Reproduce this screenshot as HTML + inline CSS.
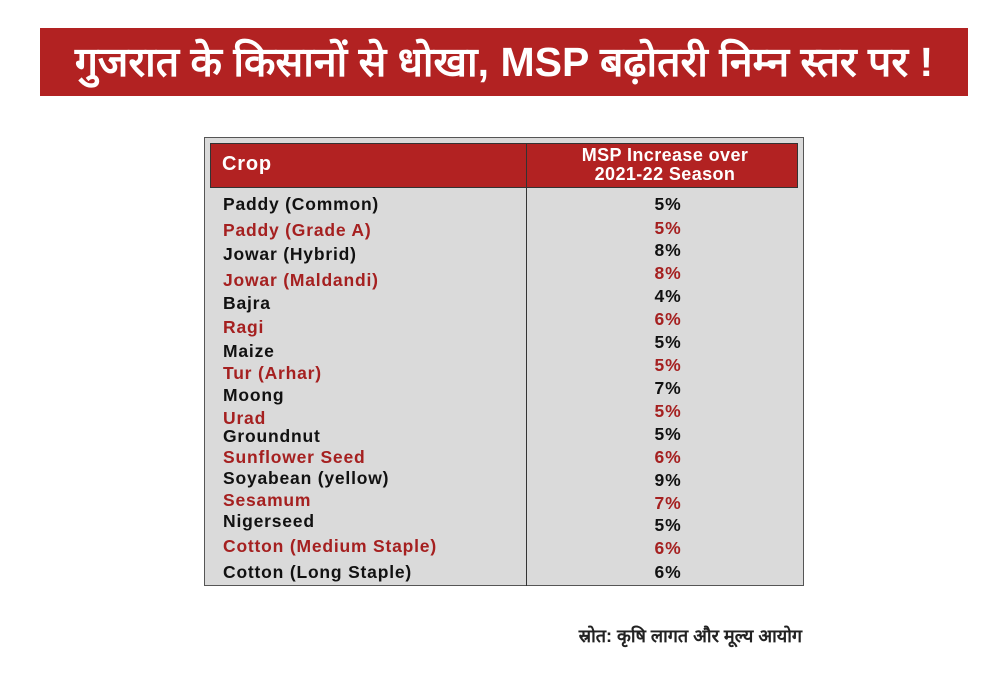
<!DOCTYPE html>
<html><head><meta charset="utf-8"><style>
body{margin:0;width:1000px;height:700px;background:#fff;position:relative;overflow:hidden;font-family:"Liberation Sans",sans-serif}
#banner{position:absolute;left:40px;top:28px;width:928px;height:68px;background:#b22222;color:#fff;font-weight:bold;font-size:41px;line-height:68px;text-align:center;white-space:nowrap;overflow:hidden}
#tbl{position:absolute;left:204px;top:137px;width:600px;height:449px;background:#dadada;border:1px solid #555;box-sizing:border-box}
#hdr{position:absolute;left:210px;top:143px;width:588px;height:45px;background:#b22222;border:1px solid #333;box-sizing:border-box}
#div{position:absolute;left:526px;top:143px;width:1px;height:443px;background:#333}
.t{position:absolute;font-weight:bold;font-size:17.5px;line-height:18px;white-space:nowrap;color:#111;letter-spacing:0.8px}
.r{color:#a52020}
.v{width:80px;text-align:center;left:628px}
#src{position:absolute;left:500px;top:624px;width:302px;text-align:right;font-weight:bold;font-size:18px;color:#222}
</style></head><body>
<div id="banner">गुजरात के किसानों से धोखा, MSP बढ़ोतरी निम्न स्तर पर !</div>
<div id="tbl"></div>
<div id="hdr"></div>
<div id="div"></div>
<div class="t" style="left:222px;top:153px;color:#fff;font-size:20px;line-height:22px">Crop</div>
<div class="t" style="left:530px;top:146px;width:270px;text-align:center;color:#fff;font-size:18px;line-height:19px;letter-spacing:0.4px">MSP Increase over<br>2021-22 Season</div>
<div id="rows"></div>
<div id="src">स्रोत: कृषि लागत और मूल्य आयोग</div>
<script>
const crops=["Paddy (Common)","Paddy (Grade A)","Jowar (Hybrid)","Jowar (Maldandi)","Bajra","Ragi","Maize","Tur (Arhar)","Moong","Urad","Groundnut","Sunflower Seed","Soyabean (yellow)","Sesamum","Nigerseed","Cotton (Medium Staple)","Cotton (Long Staple)"];
const increases=[5,5,8,8,4,6,5,5,7,5,5,6,9,7,5,6,6];
const nameY=[204,230,254,280,303,327,351,373,395,418,436,457,478,500,521,546,572];
const valY=[204,228,250,273,296,319,342,365,388,411,434,457,480,503,525,548,572];
const root=document.getElementById('rows');
crops.forEach((c,i)=>{
  const n=document.createElement('div');
  n.className='t'+(i%2?' r':'');
  n.style.left='223px';n.style.top=(nameY[i]-9)+'px';
  n.textContent=c;
  
  
  root.appendChild(n);
  const v=document.createElement('div');
  v.className='t v'+(i%2?' r':'');
  v.style.top=(valY[i]-9)+'px';
  v.textContent=increases[i]+'%';
  
  
  root.appendChild(v);
});
</script>
</body></html>
